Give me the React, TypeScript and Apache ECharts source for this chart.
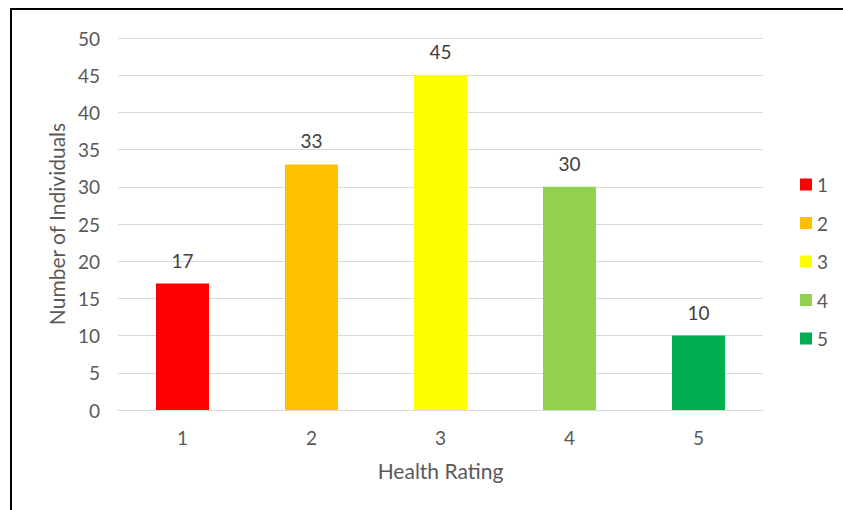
import React, { useEffect, useRef } from "react";
import * as echarts from "echarts";

const categories = ["1", "2", "3", "4", "5"];
const values = [17, 33, 45, 30, 10];
const colors = ["#ff0000", "#ffc000", "#ffff00", "#92d050", "#00b050"];
const yTicks = { min: 0, max: 50, interval: 5 };

export default function App() {
  const ref = useRef<HTMLDivElement>(null);
  useEffect(() => {
    document.body.style.margin = "0";
    const chart = echarts.init(ref.current!, null, { renderer: "svg" });
    const font = "Lato, 'Open Sans', sans-serif";
    const series = categories.map((c, i) => ({
      name: c,
      type: "bar",
      stack: "all",
      barWidth: 53,
      itemStyle: { color: colors[i] },
      label: {
        show: true,
        position: "top",
        distance: 14,
        color: "#404040",
        fontSize: 19,
        fontFamily: font,
      },
      data: categories.map((_, j) => (j === i ? values[i] : null)),
    }));
    chart.setOption({
      animation: false,
      backgroundColor: "#ffffff",
      textStyle: { fontFamily: font },
      graphic: [
        {
          type: "rect",
          shape: { x: 11, y: 9, width: 900, height: 600 },
          style: { fill: "none", stroke: "#000000", lineWidth: 2 },
          silent: true,
        },
      ],
      grid: { left: 118, right: 80, top: 38, bottom: 100 },
      legend: {
        orient: "vertical",
        left: 795,
        top: 170,
        itemWidth: 12,
        itemHeight: 12,
        itemGap: 19.5,
        icon: "rect",
        textStyle: { color: "#595959", fontSize: 19, fontFamily: font, lineHeight: 17 },
        data: categories,
      },
      xAxis: {
        type: "category",
        data: categories,
        name: "Health Rating",
        nameLocation: "middle",
        nameGap: 50,
        nameTextStyle: { color: "#595959", fontSize: 21, fontFamily: font },
        axisLine: { lineStyle: { color: "#d9d9d9", width: 1 } },
        axisTick: { show: false },
        axisLabel: { color: "#595959", fontSize: 19, margin: 18, fontFamily: font },
      },
      yAxis: {
        type: "value",
        min: yTicks.min,
        max: yTicks.max,
        interval: yTicks.interval,
        name: "Number of Individuals",
        nameLocation: "middle",
        nameGap: 50,
        nameTextStyle: { color: "#595959", fontSize: 21, fontFamily: font },
        axisLine: { show: false },
        axisTick: { show: false },
        axisLabel: { color: "#595959", fontSize: 19, margin: 18, fontFamily: font },
        splitLine: { lineStyle: { color: "#d9d9d9", width: 1 } },
      },
      series,
    });
    return () => chart.dispose();
  }, []);
  return (
    <div
      ref={ref}
      style={{ position: "fixed", left: 0, top: 0, width: 843, height: 510 }}
    />
  );
}
